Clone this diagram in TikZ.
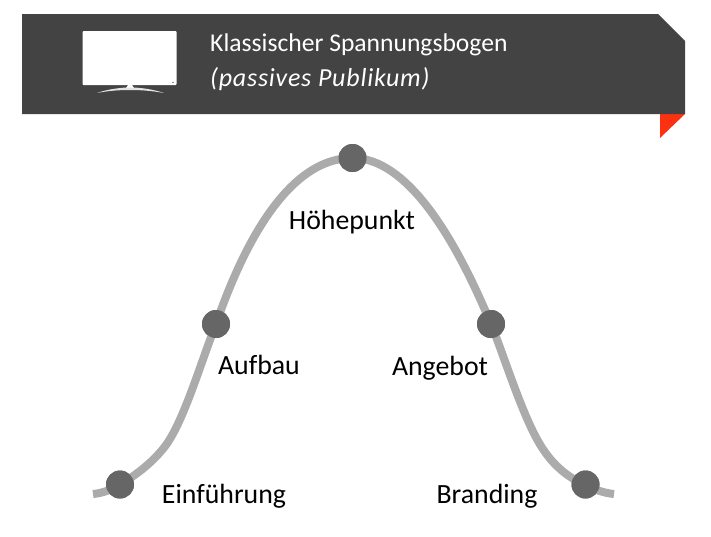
\documentclass[tikz,border=0pt]{standalone}
\usepackage{fontspec}
\setmainfont[Ligatures=NoCommon]{Carlito}
\definecolor{band}{HTML}{434343}
\definecolor{curve}{HTML}{ABABAB}
\definecolor{dot}{HTML}{666666}
\definecolor{flag}{HTML}{FA3212}
\tikzset{
  x=1pt,y=-1pt,
  dotnode/.style={circle,fill=dot,draw=none,minimum size=28,inner sep=0},
  lab/.style={font=\fontsize{27.8}{30}\selectfont,inner sep=0,text=black,anchor=base},
  title/.style={font=\fontsize{25.6}{30}\selectfont,inner sep=0,anchor=base west,text=white}
}
\begin{document}
\begin{tikzpicture}
\useasboundingbox (0,0) rectangle (711,536);
\fill[flag] (660,114) -- (685,114) -- (660,138) -- cycle;
\fill[band] (22,14) -- (658,14) -- (685,41) -- (685,114) -- (22,114) -- cycle;
% screen
\fill[white,rounded corners=1] (82.5,31) rectangle (176.5,85);
\fill[band!60] (172,81.5) rectangle (174,83);
\fill[white] (128,85) -- (132,85) -- (134,88) -- (126,88) -- cycle;
\fill[white!85!band] (97,93) .. controls (108,89) and (120,88) .. (126,87.5) -- (134,87.5) .. controls (142,88) and (152,89) .. (164,93) .. controls (150,90.5) and (140,90) .. (130,90) .. controls (120,90) and (110,90.5) .. (97,93) -- cycle;
\node[title] (t1) at (210,51.5) {Klassischer Spannungsbogen};
\node[title] (t2) at (210,86) {\fontsize{26}{30}\selectfont\addfontfeatures{LetterSpace=3}\itshape (passives Publikum)};
% curve
\coordinate (s) at (93,494);
\coordinate (e) at (614,494);
\node[dotnode] (n1) at (120,484.5) {};
\node[dotnode] (n2) at (216,324) {};
\node[dotnode] (n3) at (352.5,158) {};
\node[dotnode] (n4) at (491,324) {};
\node[dotnode] (n5) at (585.5,484.5) {};
\draw[curve,line width=8] (s) .. controls (104,493) and (112,489) .. (n1.center)
  .. controls (138,474) and (155,460) .. (166,445)
  .. controls (184,420) and (200,365) .. (n2.center)
  .. controls (245,240) and (290,158) .. (n3.center)
  .. controls (415,158) and (465,262) .. (n4.center)
  .. controls (505,358) and (525,425) .. (545,452)
  .. controls (556,468) and (572,480) .. (n5.center)
  .. controls (595,490) and (604,493) .. (e);
\node[dotnode] at (n1) {};
\node[dotnode] at (n2) {};
\node[dotnode] at (n3) {};
\node[dotnode] at (n4) {};
\node[dotnode] at (n5) {};
\node[lab] (l3) at (352,229) {Höhepunkt};
\node[lab] (l2) at (259,374) {Aufbau};
\node[lab] (l4) at (440,375) {Angebot};
\node[lab] (l1) at (224,503) {Einführung};
\node[lab] (l5) at (487,503) {Branding};
\end{tikzpicture}
\end{document}
